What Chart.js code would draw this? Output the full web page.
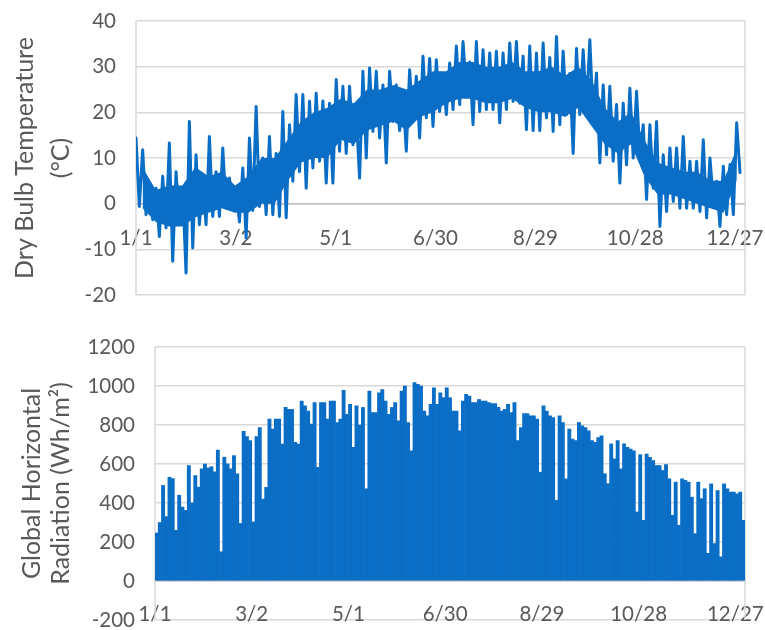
<!DOCTYPE html>
<html><head><meta charset="utf-8">
<script src="https://cdn.jsdelivr.net/npm/chart.js@4.4.1/dist/chart.umd.min.js"></script>
<style>
html,body{margin:0;padding:0;background:#fff;}
#wrap{position:relative;width:765px;height:630px;overflow:hidden;background:#fff;}
canvas{position:absolute;left:0;display:block;}
#c1{top:0}
#c2{top:310px}
</style></head><body>
<div id="wrap">
<canvas id="c1" width="765" height="310"></canvas>
<canvas id="c2" width="765" height="320"></canvas>
</div>
<script>
// ---- data ----
const xTickDays = [0, 60, 120, 180, 240, 300, 360];
const xTickLabels = ['1/1', '3/2', '5/1', '6/30', '8/29', '10/28', '12/27'];
const tempTicks = [-20, -10, 0, 10, 20, 30, 40];
const radTicks = [-200, 0, 200, 400, 600, 800, 1000, 1200];
const tempTitle = ['Dry Bulb Temperature', '(°C)'];
const radTitle = ['Global Horizontal', 'Radiation (Wh/m²)'];

// hourly dry bulb temperature: highest and lowest value in each ~4-day span (spike tips)
const tempHigh = [14.4, 11.8, 4, 3.4, 6, 13.3, 7, 3, 18, 10.7,
  4.9, 14.7, 7, 12.2, 5.6, 3.4, 7.8, 14.4, 21.3, 10,
  14.7, 11, 20.2, 17.3, 23.9, 23.9, 22.4, 24.2, 22.5, 22,
  27.2, 25.7, 25.7, 19.5, 29, 29.7, 29, 26, 29, 26,
  23.9, 29.3, 27.9, 32.3, 31.8, 31.5, 28.2, 30.8, 34.5, 35.5,
  31, 35.5, 33.7, 33, 33.4, 33, 35.2, 35.5, 32.3, 34.5,
  33, 35.2, 32, 36.6, 33.4, 28.5, 34, 33.7, 35.9, 28.6,
  26, 25.7, 21.7, 22, 25.3, 24.6, 17.3, 17.3, 18, 10.7,
  12.2, 12.2, 14.7, 9.3, 9.3, 14, 10, 4.9, 8.2, 8.6, 17.7];
const tempLow = [-0.6, -2.4, -3.5, -7.2, -5.3, -12.6, -3.9, -15.2, -9.7, -4.6,
  -4.6, -2.8, -2.8, -1, -1, -4, -7.5, -1.5, -0.6, -2.4,
  -2.4, -2.8, -3.1, 4.9, 7, 3.4, 7.8, 9.3, 4.5, 4.5,
  11.5, 11, 12.9, 5.6, 10, 15.8, 14.4, 8.9, 18, 16,
  11.5, 18, 14.4, 18.8, 16.9, 20.2, 19.5, 20.6, 21.7, 24.6,
  17.3, 20.2, 20.6, 20.6, 17.7, 20.6, 22.4, 22, 16.2, 16,
  16, 18.8, 15.8, 17.3, 19.5, 11, 19.5, 20.6, 19, 8.9,
  10.7, 9.3, 4.5, 8.5, 10, 10.7, 0.9, 3.4, -5, -1.7,
  0.5, -1, -1, -1, -1.7, -3.1, 0.5, -5, -2.4, -2.4, 6.8];

// dense part of the hourly trace: upper and lower edge in each ~8-day span
const tempCoreHigh = [8, 3, 4, 4, 8, 6, 7, 4, 6, 10,
  10, 14, 18, 20, 21, 23, 22, 25, 25, 26,
  25, 27, 29, 29, 31, 31, 30, 30, 31, 29,
  29, 30, 28, 30, 27, 21, 18, 20, 14, 9,
  8, 7, 7, 5, 5, 12];
const tempCoreLow = [-1, -4, -5, -5, -3, -2, -1, -2, -2, 0,
  0, 5, 9, 10, 10, 14, 13, 16, 17, 18,
  16, 19, 20, 22, 23, 23, 22, 22, 23, 21,
  20, 20, 19, 21, 17, 13, 11, 13, 6, 2,
  2, 1, 0, -1, -2, 5];

// global horizontal radiation: daily peak, one value per 2-day span
const radiationPeak = [246, 300, 490, 330, 532, 525, 260, 440, 379, 362,
  592, 400, 541, 481, 575, 600, 580, 586, 560, 672,
  150, 635, 600, 575, 643, 550, 295, 767, 740, 720,
  303, 740, 787, 420, 480, 830, 779, 830, 830, 702,
  890, 880, 880, 711, 702, 923, 898, 872, 805, 915,
  583, 915, 915, 830, 923, 923, 813, 830, 978, 855,
  906, 685, 898, 800, 890, 473, 974, 864, 864, 965,
  982, 923, 855, 890, 915, 821, 974, 1000, 813, 668,
  1017, 1008, 1000, 872, 847, 906, 991, 906, 965, 940,
  991, 940, 872, 872, 770, 923, 957, 948, 915, 915,
  931, 923, 923, 915, 910, 910, 890, 872, 881, 906,
  864, 915, 720, 787, 859, 859, 847, 847, 830, 558,
  898, 872, 847, 838, 414, 847, 813, 524, 779, 728,
  720, 813, 796, 787, 770, 720, 711, 736, 745, 550,
  499, 703, 626, 720, 575, 703, 685, 677, 668, 354,
  648, 311, 651, 634, 618, 592, 592, 567, 597, 524,
  337, 507, 286, 524, 516, 507, 430, 243, 507, 422,
  473, 142, 498, 192, 464, 124, 498, 473, 456, 456,
  447, 456, 311];

// ---- styling ----
const DAYS = 365;
const BLUE = '#0b6ec6';
const GRID = '#d9d9d9';
const AXIS = '#bfbfbf';
const TXT = '#595959';
const FONT = 'Lato, "Open Sans", sans-serif';
const TICK_SIZE = 20.5;
const TITLE_SIZE = 25;

// build point lists from the arrays
const span = DAYS / tempHigh.length;
const tempPoints = [];
tempHigh.forEach((h, i) => {
  tempPoints.push({x: i * span, y: h});
  tempPoints.push({x: i * span + span / 2, y: tempLow[i]});
});
const coreSpan = DAYS / tempCoreHigh.length;
const coreHighPoints = tempCoreHigh.map((v, i) => ({x: i * coreSpan + coreSpan / 2, y: v}));
const coreLowPoints = tempCoreLow.map((v, i) => ({x: i * coreSpan + coreSpan / 2, y: v}));
const radSpan = 2;
const radPoints = radiationPeak.map((v, i) => ({x: i * radSpan + radSpan / 2, y: v}));

const xLabel = v => { const k = xTickDays.indexOf(v); return k >= 0 ? xTickLabels[k] : ''; };

const frame = {
  id: 'frame',
  beforeDatasetsDraw(chart) {
    const {ctx, chartArea: a} = chart;
    ctx.save();
    ctx.strokeStyle = GRID;
    ctx.lineWidth = 1.5;
    ctx.beginPath();
    ctx.moveTo(a.left, a.top); ctx.lineTo(a.left, a.bottom);
    ctx.moveTo(a.right, a.top); ctx.lineTo(a.right, a.bottom);
    ctx.stroke();
    ctx.restore();
  }
};

function xAxis(pad) {
  return {
    type: 'linear', min: 0, max: 366, position: {y: 0}, offset: false,
    afterBuildTicks: s => { s.ticks = xTickDays.map(v => ({value: v})); },
    afterFit: s => { s.paddingLeft = 0; s.paddingRight = 0; },
    ticks: {callback: xLabel, color: TXT, font: {family: FONT, size: TICK_SIZE}, padding: pad,
            maxRotation: 0, minRotation: 0, autoSkip: false},
    grid: {display: false, drawTicks: false},
    border: {display: true, color: AXIS, width: 1.5}
  };
}
function yAxis(min, max, ticks, title, width, lh, tpad) {
  return {
    min, max,
    afterBuildTicks: s => { s.ticks = ticks.map(v => ({value: v})); },
    afterFit: s => { s.width = width; s.paddingTop = 0; s.paddingBottom = 0; },
    ticks: {color: TXT, font: {family: FONT, size: TICK_SIZE}, padding: 20, callback: v => String(v)},
    grid: {color: GRID, lineWidth: 1.5, drawTicks: false},
    border: {display: false},
    title: {display: true, text: title, color: TXT,
            font: {family: FONT, size: TITLE_SIZE, lineHeight: lh / TITLE_SIZE}, padding: {top: tpad, bottom: 0}}
  };
}

new Chart(document.getElementById('c1'), {
  type: 'line',
  data: {datasets: [
    {data: coreHighPoints, borderWidth: 0, borderColor: 'rgba(0,0,0,0)', pointRadius: 0, tension: 0, fill: false},
    {data: coreLowPoints, borderWidth: 0, borderColor: 'rgba(0,0,0,0)', pointRadius: 0, tension: 0,
     fill: '-1', backgroundColor: BLUE},
    {data: tempPoints, borderColor: BLUE, borderWidth: 3, pointRadius: 0,
     tension: 0, borderJoinStyle: 'round', borderCapStyle: 'round', fill: false}
  ]},
  options: {
    responsive: false, animation: false, parsing: false, normalized: true,
    layout: {padding: {left: 0, right: 20, top: 21, bottom: 15}},
    plugins: {legend: {display: false}, tooltip: {enabled: false}},
    scales: {x: xAxis(22), y: yAxis(-20, 40, tempTicks, tempTitle, 136, 36, 7)}
  },
  plugins: [frame]
});

new Chart(document.getElementById('c2'), {
  type: 'bar',
  data: {datasets: [{data: radPoints, backgroundColor: BLUE, borderWidth: 0,
    categoryPercentage: 1, barPercentage: 1}]},
  options: {
    responsive: false, animation: false,
    layout: {padding: {left: 0, right: 20, top: 37, bottom: 10}},
    plugins: {legend: {display: false}, tooltip: {enabled: false}},
    scales: {x: xAxis(21), y: yAxis(-200, 1200, radTicks, radTitle, 155, 29, 17)}
  },
  plugins: [frame]
});
</script>
</body></html>
